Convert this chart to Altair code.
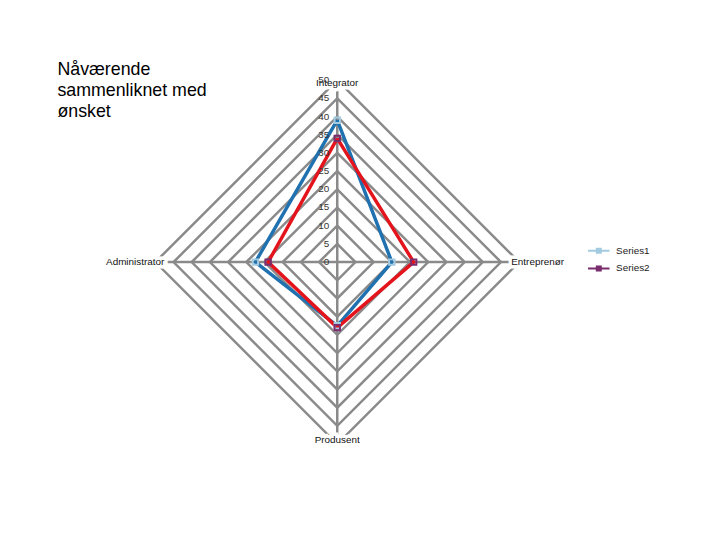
import altair as alt
import pandas as pd

categories = ["Integrator", "Entreprenør", "Produsent", "Administrator"]
angles = [0, 90, 180, 270]
series_names = ["Series1", "Series2"]
series1 = [39, 15, 17.5, 22.5]
series2 = [34, 21, 18, 19]
levels = [5, 10, 15, 20, 25, 30, 35, 40, 45, 50]
tick_values = [0, 5, 10, 15, 20, 25, 30, 35, 40, 45, 50]
title_lines = ["Nåværende", "sammenliknet med", "ønsket"]

FONT = "Liberation Sans"
R = 50

rows = []
for s, vals in zip(series_names, [series1, series2]):
    for i in range(5):
        k = i % 4
        rows.append({"series": s, "cat": categories[k], "angle": angles[k], "value": vals[k], "ord": i})
sdf = pd.DataFrame(rows)

grows = []
for lv in levels:
    for i in range(5):
        k = i % 4
        grows.append({"level": lv, "angle": angles[k], "ord": i})
gdf = pd.DataFrame(grows)

sprows = []
for c, a in zip(categories, angles):
    sprows.append({"cat": c, "angle": a, "value": 0, "ord": 0})
    sprows.append({"cat": c, "angle": a, "value": R, "ord": 1})
spdf = pd.DataFrame(sprows)

tdf = pd.DataFrame({"value": tick_values, "label": [str(v) for v in tick_values]})
cdf = pd.DataFrame({"cat": categories, "angle": angles, "value": [R] * 4})

xs = alt.Scale(domain=[-R, R], nice=False, zero=False)
ys = alt.Scale(domain=[-R, R], nice=False, zero=False)


def polar(ch, vfield):
    return ch.transform_calculate(
        px=f"datum.{vfield} * sin(datum.angle * PI / 180)",
        py=f"datum.{vfield} * cos(datum.angle * PI / 180)",
    )


X = alt.X("px:Q", scale=xs, axis=None)
Y = alt.Y("py:Q", scale=ys, axis=None)

grid = polar(alt.Chart(gdf).mark_line(color="#8a8a8a", strokeWidth=2.5), "level").encode(
    x=X, y=Y, detail="level:N", order="ord:Q"
)

spokes = polar(alt.Chart(spdf).mark_line(color="#8a8a8a", strokeWidth=2.5), "value").encode(
    x=X, y=Y, detail="cat:N", order="ord:Q"
)

ticks = alt.Chart(tdf).mark_text(align="right", baseline="middle", dx=-8, fontSize=10, font=FONT, color="#333333").encode(
    x=alt.X("z:Q", scale=xs, axis=None), y=alt.Y("value:Q", scale=ys, axis=None), text="label:N"
).transform_calculate(z="0")

lines = polar(alt.Chart(sdf).mark_line(strokeWidth=3.5, strokeJoin="miter"), "value").encode(
    x=X, y=Y,
    color=alt.Color("series:N", scale=alt.Scale(domain=series_names, range=["#2071b0", "#e3141c"]), legend=None),
    order="ord:Q",
)

points = polar(alt.Chart(sdf).mark_point(shape="square", filled=False, strokeWidth=2, size=30, opacity=1), "value").transform_filter(
    "datum.ord < 4"
).encode(
    x=X, y=Y,
    color=alt.Color(
        "series:N",
        scale=alt.Scale(domain=series_names, range=["#a3cbe0", "#7a2d6e"]),
        legend=alt.Legend(
            title=None, orient="none", legendX=440, legendY=164,
            symbolType="M-1.45,0H1.45M-0.27,-0.27H0.27V0.27H-0.27Z", symbolSize=225, symbolStrokeWidth=2,
            labelFont=FONT, labelFontSize=10, labelColor="#222222", rowPadding=3, labelOffset=9,
        ),
    ),
)


def cat_label(name, align, baseline, dx, dy):
    base = polar(alt.Chart(cdf), "value").transform_filter(alt.datum.cat == name)
    halo = base.mark_text(align=align, baseline=baseline, dx=dx, dy=dy, fontSize=10, font=FONT,
                          color="white", stroke="white", strokeWidth=7).encode(x=X, y=Y, text="cat:N")
    txt = base.mark_text(align=align, baseline=baseline, dx=dx, dy=dy, fontSize=10, font=FONT,
                         color="#111111").encode(x=X, y=Y, text="cat:N")
    return halo + txt


labels = (
    cat_label("Integrator", "center", "middle", 0, 3)
    + cat_label("Entreprenør", "left", "middle", -8, 0)
    + cat_label("Produsent", "center", "middle", 0, -4)
    + cat_label("Administrator", "right", "middle", 9, 0)
)

chart = alt.layer(grid, spokes, lines, points, labels, ticks).resolve_scale(
    color="independent"
).properties(
    width=368, height=368,
    title=alt.TitleParams(
        text=title_lines, anchor="start", frame="group", orient="top", dx=-99, dy=46, offset=0,
        baseline="top", fontSize=18, font=FONT, fontWeight="normal", color="#000000", lineHeight=21,
    ),
    autosize=alt.AutoSizeParams(type="none"),
    padding={"left": 149, "top": 70, "right": 195, "bottom": 86},
).configure_view(stroke=None)

chart.save("out.html", embed_options={"renderer": "svg", "actions": False})
